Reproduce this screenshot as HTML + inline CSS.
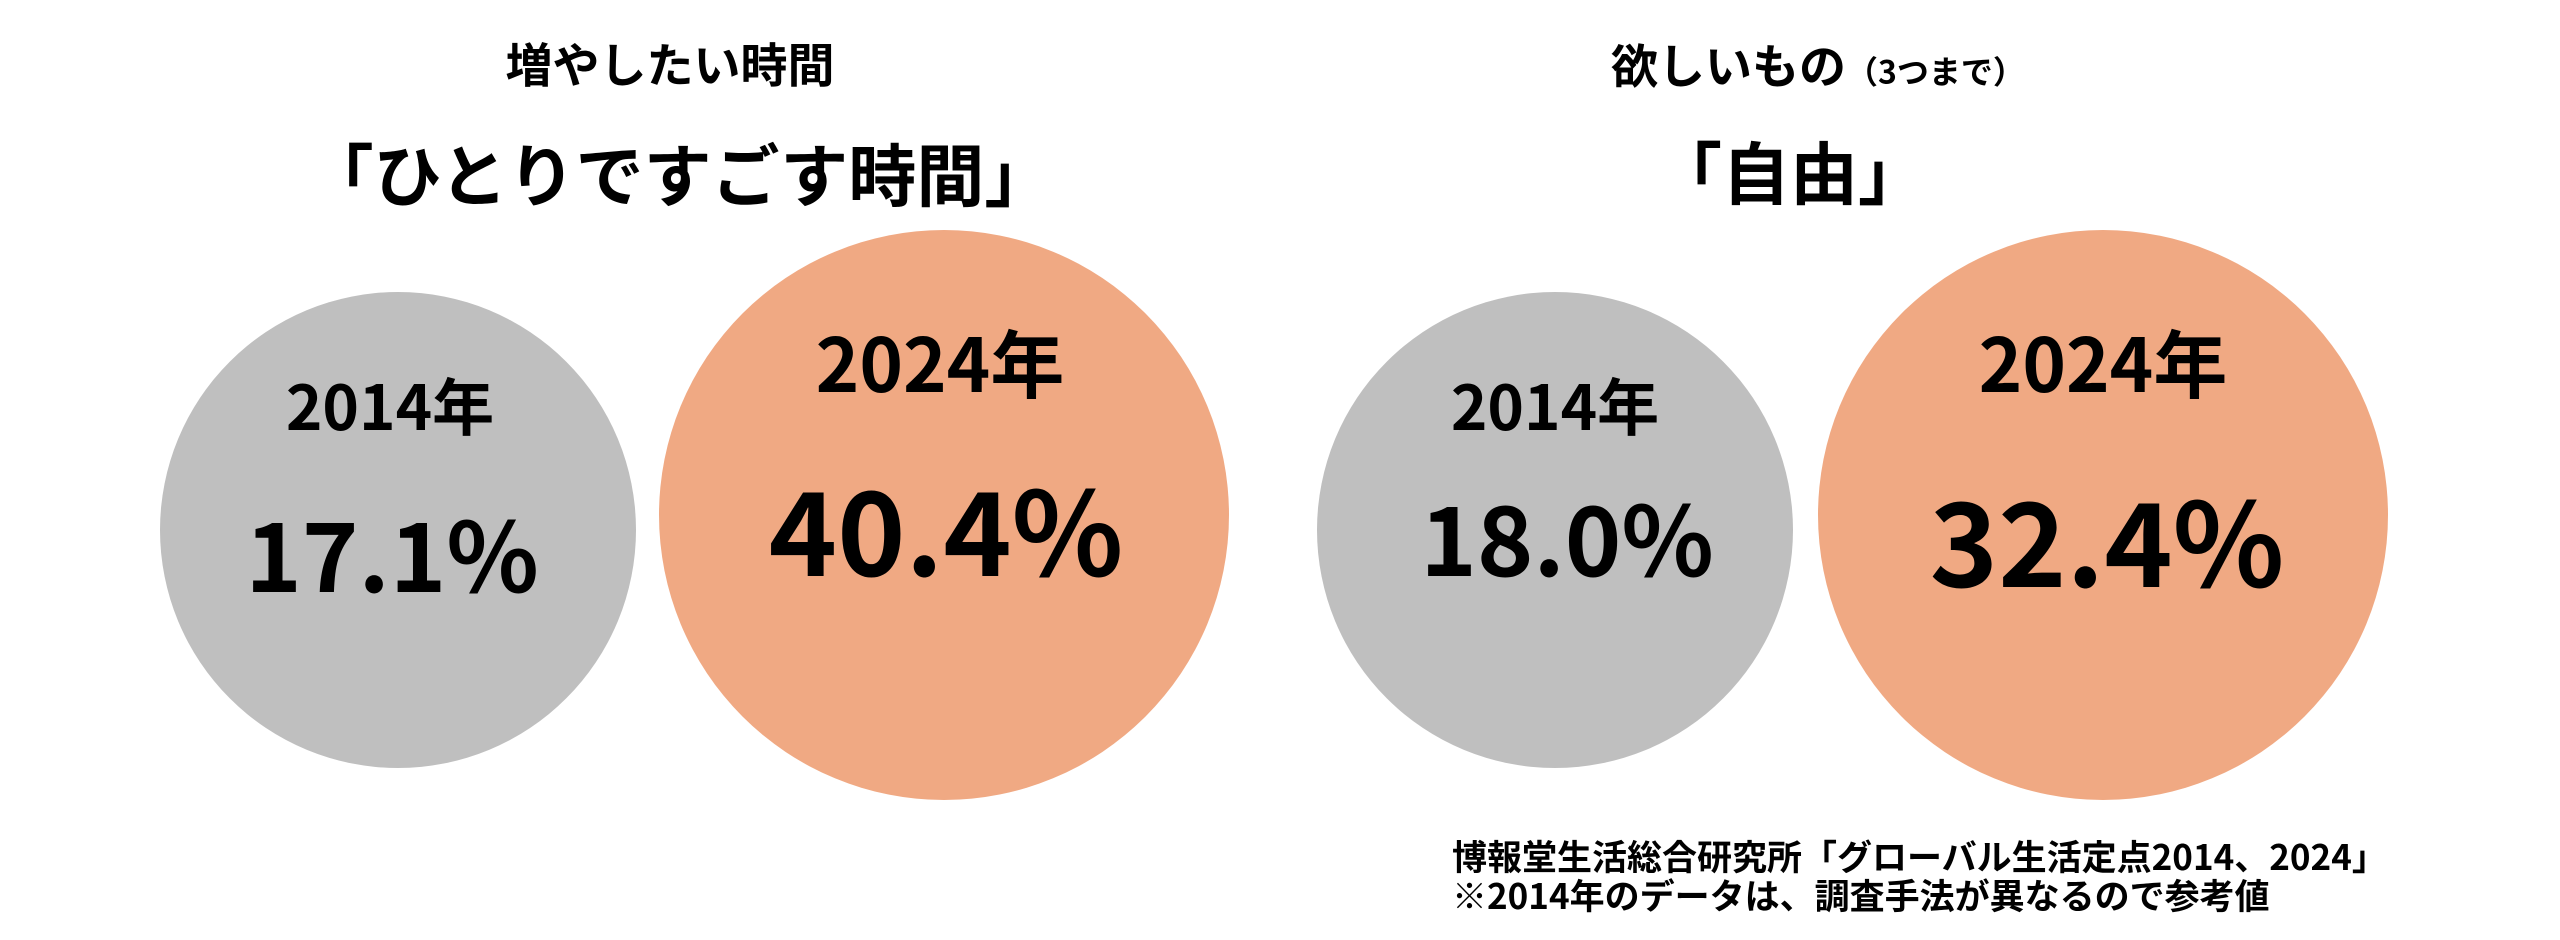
<!DOCTYPE html>
<html><head><meta charset="utf-8"><style>
html,body{margin:0;padding:0;background:#fff;}
body{width:2560px;height:940px;position:relative;overflow:hidden;font-family:"Noto Sans CJK JP","Liberation Sans",sans-serif;font-weight:bold;color:#000;}
.c{position:absolute;border-radius:50%;}
.t{position:absolute;line-height:1;white-space:nowrap;transform:translate(-50%,-50%);}
</style></head><body>
<div class="c" style="left:160px;top:292px;width:476px;height:476px;background:#bfbfbf"></div>
<div class="c" style="left:659px;top:230px;width:570px;height:570px;background:#f0a983"></div>
<div class="c" style="left:1317px;top:292px;width:476px;height:476px;background:#bfbfbf"></div>
<div class="c" style="left:1818px;top:230px;width:570px;height:570px;background:#f0a983"></div>

<div class="t" style="left:670px;top:62px;font-size:47px">増やしたい時間</div>
<div class="t" style="left:679px;top:172px;font-size:68px">「ひとりですごす時間」</div>
<div class="t" style="left:1818px;top:63px;font-size:47px">欲しいもの<span style="font-size:32px">（3つまで）</span></div>
<div class="t" style="left:1790px;top:170px;font-size:68px">「自由」</div>

<div class="t" style="left:390px;top:403px;font-size:62px">2014年</div>
<div class="t" style="left:392px;top:551px;font-size:96px">17.1%</div>
<div class="t" style="left:940px;top:361px;font-size:74px">2024年</div>
<div class="t" style="left:946px;top:526px;font-size:116px">40.4%</div>

<div class="t" style="left:1555px;top:403px;font-size:62px">2014年</div>
<div class="t" style="left:1567px;top:535px;font-size:96px">18.0%</div>
<div class="t" style="left:2103px;top:361px;font-size:74px">2024年</div>
<div class="t" style="left:2107px;top:537px;font-size:116px">32.4%</div>

<div style="position:absolute;left:1452px;top:836px;font-size:35px;line-height:39px;font-weight:bold;white-space:nowrap">博報堂生活総合研究所「グローバル生活定点2014、2024」<br>※2014年のデータは、調査手法が異なるので参考値</div>
</body></html>
